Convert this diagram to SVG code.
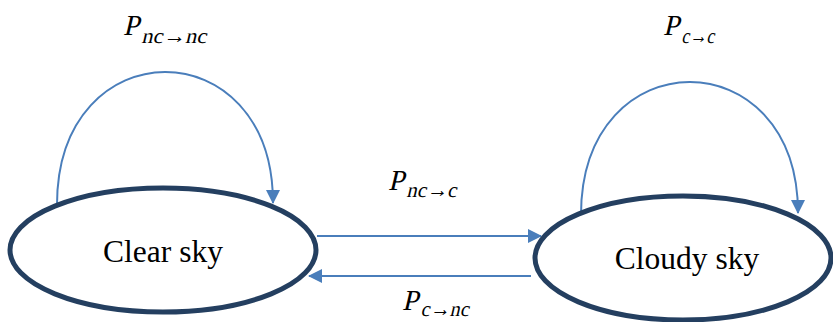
<svg xmlns="http://www.w3.org/2000/svg" width="833" height="322" viewBox="0 0 833 322">
<style>
.node{fill:#ffffff;stroke:#243f60;stroke-width:5}
.ntxt{font-family:"Liberation Serif","Times New Roman",serif;font-size:31.5px;fill:#000;text-anchor:middle}
.edge{fill:none;stroke:#4a7ebb;stroke-width:2}
.p{font-family:"Liberation Serif","Times New Roman",serif;font-size:29px;fill:#000}
.sub{font-family:"Liberation Serif","Times New Roman",serif;font-size:21px;fill:#000}
</style>
<defs>
<marker id="ah" markerUnits="userSpaceOnUse" markerWidth="14" markerHeight="14" refX="13" refY="7" orient="auto">
<path d="M0,0 L14,7 L0,14 z" fill="#4a7ebb"/>
</marker>
</defs>
<rect width="833" height="322" fill="#ffffff"/>
<g id="connectors">
<path class="edge" d="M57,205 C57,28 273,28 273,203" marker-end="url(#ah)"/>
<path class="edge" d="M581,215 C581,38 798,38 798,213" marker-end="url(#ah)"/>
<path class="edge" d="M317,236 L541,236" marker-end="url(#ah)"/>
<path class="edge" d="M531,276 L309,276" marker-end="url(#ah)"/>
</g>
<g id="clear">
<ellipse class="node" cx="163" cy="250" rx="153" ry="62"/>
<text class="ntxt" x="163" y="262">Clear sky</text>
</g>
<g id="cloudy">
<ellipse class="node" cx="683" cy="258" rx="148" ry="62"/>
<text class="ntxt" x="687" y="269">Cloudy sky</text>
</g>
<g id="labels">
<g transform="translate(123,35) skewX(-13)">
<text class="p" x="0" y="0">P</text>
<text class="sub" x="20" y="8" textLength="65" lengthAdjust="spacingAndGlyphs">nc→nc</text>
</g>
<g transform="translate(663,35) skewX(-13)">
<text class="p" x="0" y="0">P</text>
<text class="sub" x="20" y="8" textLength="33" lengthAdjust="spacingAndGlyphs">c→c</text>
</g>
<g transform="translate(388,190) skewX(-13)">
<text class="p" x="0" y="0">P</text>
<text class="sub" x="20" y="7" textLength="50" lengthAdjust="spacingAndGlyphs">nc→c</text>
</g>
<g transform="translate(402,310) skewX(-13)">
<text class="p" x="0" y="0">P</text>
<text class="sub" x="20" y="6" textLength="48" lengthAdjust="spacingAndGlyphs">c→nc</text>
</g>
</g>
</svg>
